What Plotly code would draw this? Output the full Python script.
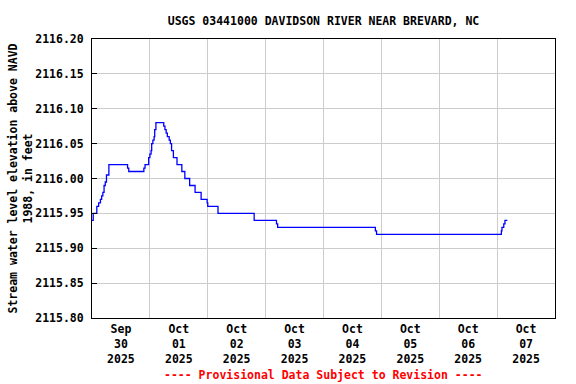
import plotly.graph_objects as go

# Step changes in gage height (time of change, new value), feet above NAVD 1988
times = [
    "2025-09-30 00:00", "2025-09-30 00:30", "2025-09-30 02:00", "2025-09-30 02:45",
    "2025-09-30 03:30", "2025-09-30 04:00", "2025-09-30 04:30", "2025-09-30 05:00",
    "2025-09-30 05:30", "2025-09-30 06:00", "2025-09-30 07:00", "2025-09-30 14:45",
    "2025-09-30 15:15", "2025-09-30 21:30", "2025-09-30 22:00", "2025-09-30 23:30",
    "2025-10-01 00:00", "2025-10-01 00:30", "2025-10-01 00:45", "2025-10-01 01:15",
    "2025-10-01 01:45", "2025-10-01 02:00", "2025-10-01 02:30", "2025-10-01 05:45",
    "2025-10-01 06:15", "2025-10-01 06:45", "2025-10-01 07:15", "2025-10-01 08:00",
    "2025-10-01 08:30", "2025-10-01 09:00", "2025-10-01 09:45", "2025-10-01 11:15",
    "2025-10-01 13:15", "2025-10-01 14:30", "2025-10-01 16:30", "2025-10-01 18:45",
    "2025-10-01 21:15", "2025-10-01 23:45", "2025-10-02 00:00", "2025-10-02 04:15",
    "2025-10-02 19:15", "2025-10-03 04:30", "2025-10-03 05:00", "2025-10-04 21:30",
    "2025-10-04 22:00", "2025-10-07 01:45", "2025-10-07 02:00", "2025-10-07 02:45",
    "2025-10-07 03:15", "2025-10-07 04:15",
]
values = [
    2115.94, 2115.95, 2115.96, 2115.965,
    2115.97, 2115.975, 2115.98, 2115.99,
    2115.995, 2116.005, 2116.02, 2116.015,
    2116.01, 2116.015, 2116.02, 2116.03,
    2116.035, 2116.04, 2116.05, 2116.055,
    2116.06, 2116.07, 2116.08, 2116.075,
    2116.07, 2116.065, 2116.06, 2116.055,
    2116.05, 2116.04, 2116.03, 2116.02,
    2116.01, 2116.00, 2115.99, 2115.98,
    2115.97, 2115.965, 2115.96, 2115.95,
    2115.94, 2115.935, 2115.93, 2115.925,
    2115.92, 2115.925, 2115.93, 2115.935,
    2115.94, 2115.94,
]

title_text = "USGS 03441000 DAVIDSON RIVER NEAR BREVARD, NC"
y_title = "Stream water level elevation above NAVD<br>1988, in feet"
footer = "---- Provisional Data Subject to Revision ----"

FONT = "DejaVu Sans Mono"
FS = 11.5

fig = go.Figure()
fig.add_trace(go.Scatter(
    x=times, y=values, mode="lines", line_shape="hv",
    line=dict(color="#0000ff", width=1.3), showlegend=False,
))

fig.update_layout(
    width=576, height=384,
    margin=dict(l=92, r=21, t=39, b=66, autoexpand=False),
    paper_bgcolor="white", plot_bgcolor="white",
    font=dict(family=FONT, size=FS, color="black", weight="bold"),
    title=dict(text=title_text, x=323.5 / 576, xref="container", xanchor="center",
               y=1 - 20.5 / 384, yref="container", yanchor="middle",
               font=dict(family=FONT, size=FS, color="black", weight="bold")),
    annotations=[dict(text=footer, xref="paper", yref="paper", x=0.5, y=-0.204,
                      xanchor="center", yanchor="middle", showarrow=False,
                      font=dict(family=FONT, size=FS, color="#ff0000", weight="bold"))],
)
fig.update_xaxes(
    type="date", range=["2025-09-30 00:00", "2025-10-08 00:00"],
    tick0="2025-09-30", dtick=86400000, ticklabelmode="period",
    tickformat="%b<br>%d<br>%Y", ticks="", automargin=False,
    showgrid=True, gridcolor="#cccccc", gridwidth=1,
    showline=True, linecolor="black", linewidth=1, mirror=True,
    zeroline=False,
)
fig.update_yaxes(
    range=[2115.80, 2116.20], tick0=2115.80, dtick=0.05, tickformat=".2f",
    ticks="inside", ticklen=5, tickcolor="black", automargin=False,
    showgrid=True, gridcolor="#cccccc", gridwidth=1,
    showline=True, linecolor="black", linewidth=1, mirror=True,
    zeroline=False, ticklabelstandoff=5,
    title=dict(text=y_title, standoff=0,
               font=dict(family=FONT, size=FS, color="black", weight="bold")),
)

fig.write_html(
    "out.html",
    config={"displayModeBar": False},
    post_script="document.body.style.margin='0';document.body.style.padding='0';",
)
